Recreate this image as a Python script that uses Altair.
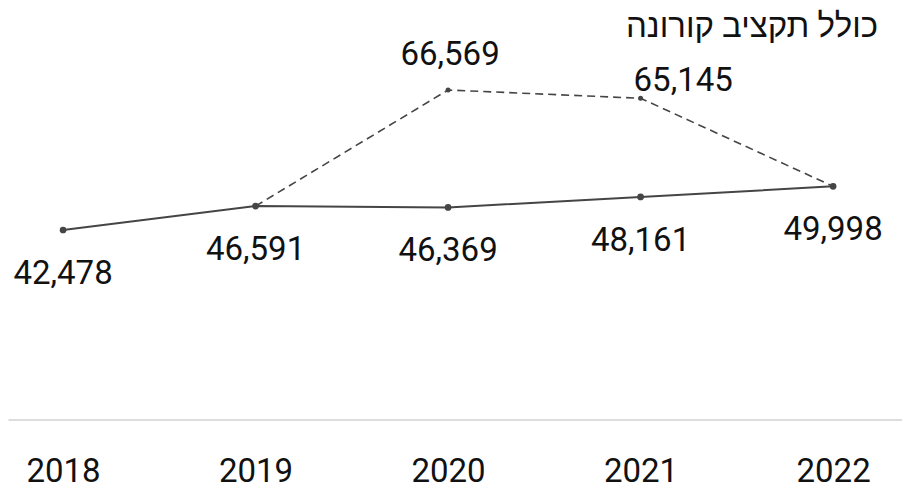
import altair as alt
import pandas as pd

years = [2018, 2019, 2020, 2021, 2022]
budget = [42478, 46591, 46369, 48161, 49998]
corona_years = [2019, 2020, 2021, 2022]
corona_budget = [46591, 66569, 65145, 49998]
corona_label = "כולל תקציב קורונה"

FONT = "Liberation Sans Narrow, Roboto, sans-serif"
LINE = "#454545"

base_df = pd.DataFrame({"year": years, "value": budget})
cor_df = pd.DataFrame({"year": corona_years, "value": corona_budget})
mid_df = cor_df[cor_df["year"].isin([2020])]
r21_df = cor_df[cor_df["year"].isin([2021])]
ann_df = pd.DataFrame({"year": [2022], "value": [max(corona_budget)], "t": [corona_label]})

xs = alt.Scale(domain=[2017.714, 2022.358], nice=False, zero=False)
ys = alt.Scale(domain=[9870, 80680], nice=False, zero=False)

X = alt.X("year:Q", scale=xs,
          axis=alt.Axis(values=years, format="d", title=None, ticks=False, grid=False,
                        domainColor="#dddddd", domainWidth=2, labelFontSize=33,
                        labelFont=FONT, labelColor="#111111", labelPadding=36,
                        labelFlush=False))
Y = alt.Y("value:Q", scale=ys, axis=None)

solid = alt.Chart(base_df).mark_line(color=LINE, strokeWidth=2).encode(x=X, y=Y)
solid_pts = alt.Chart(base_df).mark_circle(color=LINE, size=45, opacity=1).encode(x=X, y=Y)
dashed = alt.Chart(cor_df).mark_line(color=LINE, strokeWidth=1.6, strokeDash=[8, 5]).encode(x=X, y=Y)
dashed_pts = alt.Chart(cor_df).mark_circle(color=LINE, size=25, opacity=1).encode(x=X, y=Y)

lab_solid = alt.Chart(base_df).mark_text(font=FONT, fontSize=33, color="#111111",
                                         baseline="alphabetic", dy=54).encode(
    x=X, y=Y, text=alt.Text("value:Q", format=","))
lab_mid = alt.Chart(mid_df).mark_text(font=FONT, fontSize=33, color="#111111",
                                      baseline="alphabetic", dy=-25, dx=2).encode(
    x=X, y=Y, text=alt.Text("value:Q", format=","))
lab_21 = alt.Chart(r21_df).mark_text(font=FONT, fontSize=33, color="#111111",
                                     baseline="alphabetic", align="left", dy=-7, dx=-7).encode(
    x=X, y=Y, text=alt.Text("value:Q", format=","))
ann = alt.Chart(ann_df).mark_text(font=FONT, fontSize=33, color="#111111",
                                  baseline="alphabetic", align="right", dx=45, dy=-53).encode(
    x=X, y=Y, text="t:N")

chart = alt.layer(solid, dashed, dashed_pts, solid_pts, lab_solid, lab_mid, lab_21, ann).properties(
    width=894, height=411.5, padding=0
).configure_view(stroke=None)

chart.save("out.html", embed_options={"renderer": "svg", "actions": False})
